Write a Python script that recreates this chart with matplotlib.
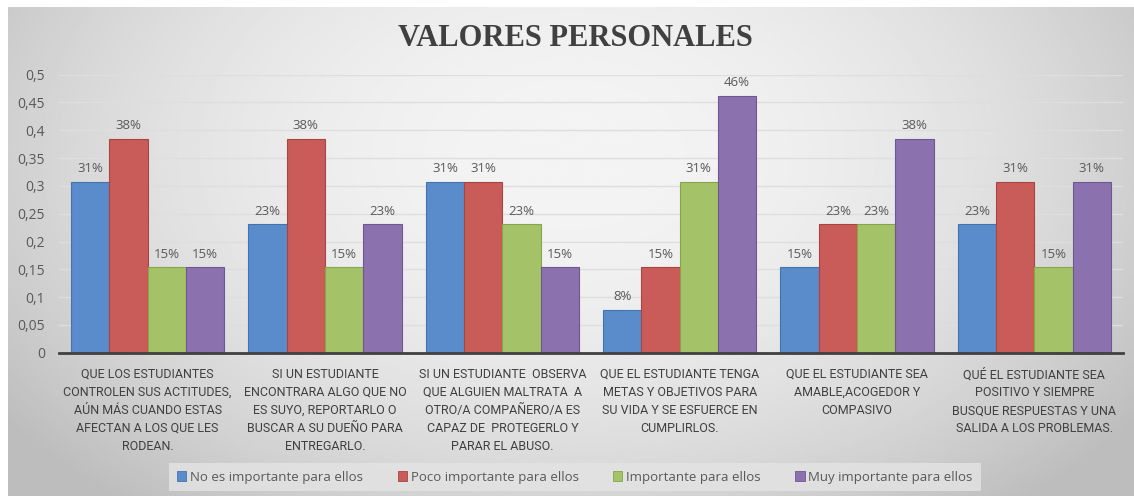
import numpy as np
import matplotlib
matplotlib.use('Agg')
import matplotlib.pyplot as plt
from matplotlib.patches import Patch

CATEGORIES = [
    'QUE LOS ESTUDIANTES\nCONTROLEN SUS ACTITUDES,\nAÚN MÁS CUANDO ESTAS\nAFECTAN A LOS QUE LES\nRODEAN.',
    'SI UN ESTUDIANTE\nENCONTRARA ALGO QUE NO\nES SUYO, REPORTARLO O\nBUSCAR A SU DUEÑO PARA\nENTREGARLO.',
    'SI UN ESTUDIANTE  OBSERVA\nQUE ALGUIEN MALTRATA  A\nOTRO/A COMPAÑERO/A ES\nCAPAZ DE  PROTEGERLO Y\nPARAR EL ABUSO.',
    'QUE EL ESTUDIANTE TENGA\nMETAS Y OBJETIVOS PARA\nSU VIDA Y SE ESFUERCE EN\nCUMPLIRLOS.',
    'QUE EL ESTUDIANTE SEA\nAMABLE,ACOGEDOR Y\nCOMPASIVO',
    'QUÉ EL ESTUDIANTE SEA\nPOSITIVO Y SIEMPRE\nBUSQUE RESPUESTAS Y UNA\nSALIDA A LOS PROBLEMAS.',
]

SERIES_NAMES = ['No es importante para ellos', 'Poco importante para ellos',
                'Importante para ellos', 'Muy importante para ellos']

no_importante = [0.3077, 0.2308, 0.3077, 0.0769, 0.1538, 0.2308]
poco_importante = [0.3846, 0.3846, 0.3077, 0.1538, 0.2308, 0.3077]
importante = [0.1538, 0.1538, 0.2308, 0.3077, 0.2308, 0.1538]
muy_importante = [0.1538, 0.2308, 0.1538, 0.4615, 0.3846, 0.3077]

Y_TICKS = [0, 0.05, 0.1, 0.15, 0.2, 0.25, 0.3, 0.35, 0.4, 0.45, 0.5]
Y_TICK_LABELS = ['0', '0,05', '0,1', '0,15', '0,2', '0,25', '0,3', '0,35', '0,4', '0,45', '0,5']

COLORS = ['#5a8ccb', '#c95b59', '#a4c267', '#8b72ae']
EDGES = ['#4474ad', '#a64542', '#86a64c', '#6e5892']
TEXT_COLOR = '#595959'

W, H = 1134, 496
fig = plt.figure(figsize=(W / 100, H / 100), dpi=100)
fig.patch.set_facecolor('white')

# grey radial gradient behind the chart, like the Excel chart area
bg = fig.add_axes([8 / W, 0, 1 - 8 / W, 1 - 7 / H])
yy, xx = np.mgrid[0:1:300j, 0:1:600j]
r = np.sqrt(((xx - 0.5) / 0.6) ** 2 + ((yy - 0.3) / 0.9) ** 2)
shade = np.clip(0.955 - 0.2 * r ** 2, 0.74, 0.96)
bg.imshow(shade, cmap='gray', vmin=0, vmax=1, aspect='auto', extent=[0, 1, 1, 0])
bg.set_axis_off()

ax = fig.add_axes([59 / W, 1 - 352.7 / H, 1064 / W, 278 / H])
ax.patch.set_alpha(0)

x = np.arange(len(CATEGORIES))
bw = 0.216
all_series = [no_importante, poco_importante, importante, muy_importante]
for i, vals in enumerate(all_series):
    pos = x + (i - 1.5) * bw
    ax.bar(pos, vals, bw, color=COLORS[i], edgecolor=EDGES[i], linewidth=0.8, zorder=3)
    for px, v in zip(pos, vals):
        ax.text(px, v + 0.012, f'{v:.0%}', ha='center', va='bottom',
                fontsize=9.5, color=TEXT_COLOR, family='Open Sans', zorder=4)

ax.set_xlim(-0.5, len(CATEGORIES) - 0.5)
ax.set_ylim(0, 0.5)
ax.set_yticks(Y_TICKS)
ax.set_yticklabels(Y_TICK_LABELS, fontsize=10, color=TEXT_COLOR, family='Open Sans')
ax.set_xticks(x)
ax.set_xticklabels(CATEGORIES, fontsize=9, color='#404040',
                   family='Roboto', linespacing=1.5)
ax.tick_params(axis='both', length=0)
ax.tick_params(axis='x', pad=11)
ax.tick_params(axis='y', pad=10)

ax.grid(axis='y', color='#dedede', linewidth=1, zorder=0)
for s in ['top', 'right', 'left']:
    ax.spines[s].set_visible(False)
ax.spines['bottom'].set_color('#404040')
ax.spines['bottom'].set_linewidth(2)
ax.spines['bottom'].set_zorder(5)

fig.text(575 / W, 1 - 38 / H, 'VALORES PERSONALES', ha='center', va='center',
         fontsize=22, fontweight='bold', color='#404040', family='Liberation Serif')

handles = [Patch(facecolor=c, edgecolor=e, linewidth=0.6) for c, e in zip(COLORS, EDGES)]
leg = fig.legend(handles, SERIES_NAMES, loc='center', ncol=4,
                 bbox_to_anchor=(575 / W, 1 - 477 / H), frameon=True,
                 prop={'family': 'Open Sans', 'size': 9.5}, handlelength=0.7,
                 handleheight=0.7, handletextpad=0.3, columnspacing=2.6,
                 borderpad=0.6, fancybox=False, labelcolor=TEXT_COLOR)
leg.get_frame().set_facecolor('#e4e4e4')
leg.get_frame().set_edgecolor('none')
leg.get_frame().set_alpha(0.8)

plt.savefig('out.png', dpi=100)
